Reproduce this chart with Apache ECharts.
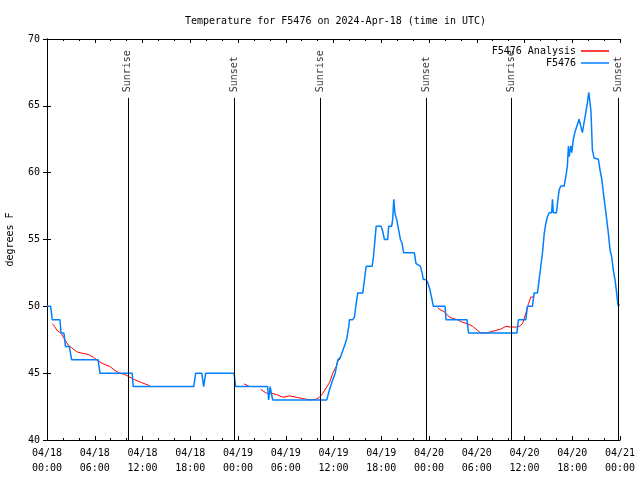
<!DOCTYPE html>
<html>
<head>
<meta charset="utf-8">
<script src="https://cdn.jsdelivr.net/npm/echarts@6/dist/echarts.min.js"></script>
<style>html,body{margin:0;padding:0;background:#fff}#c{width:640px;height:480px}</style>
</head>
<body>
<div id="c"></div>
<script>
// hours since 2024-04-18 00:00 UTC, degrees F
const obsHours = [0.00,0.46,0.66,1.63,1.76,2.13,2.32,2.80,3.10,6.43,6.65,10.70,10.83,18.44,18.69,19.44,19.69,19.94,23.50,23.71,27.72,27.85,28.04,28.16,28.35,35.16,35.37,35.62,35.91,36.21,36.54,36.88,37.17,37.47,37.67,37.92,38.01,38.42,38.63,38.85,39.05,39.68,39.89,40.10,40.86,41.02,41.14,41.36,41.98,42.19,42.40,42.81,42.94,43.31,43.44,43.57,43.74,43.94,44.19,44.41,44.62,44.82,46.16,46.37,46.91,47.13,47.29,47.63,47.83,48.13,48.38,48.55,50.01,50.14,52.77,52.97,59.04,59.24,60.17,60.37,61.00,61.21,61.63,61.84,62.05,62.26,62.47,62.68,62.88,63.10,63.41,63.51,63.63,64.01,64.14,64.35,64.56,64.98,65.19,65.39,65.52,65.61,65.82,65.94,66.11,66.32,66.65,66.86,67.07,67.27,67.52,67.70,67.90,68.08,68.24,68.36,68.53,68.74,69.28,69.49,69.71,69.91,70.12,70.33,70.53,70.75,70.96,71.16,71.37,71.54,71.67,71.79,71.90];
const obsTemps = [50,50,49,49,48,48,47,47,46,46,45,45,44,44,45,45,44,45,45,44,44,43,44,44,43,43,43.5,44,44.5,45,46,46.2,46.7,47.2,47.6,48.5,49,49,49.2,50.2,51,51,52,53,53,53.7,54.5,56,56,55.6,55,55,56,56,56.5,58,56.9,56.5,55.7,55,54.7,54,54,53.2,53,52.5,52,52,51.8,51.2,50.5,50,50,49,49,48,48,49,49,50,50,51,51,52,53,54,55.4,56.2,56.7,57,57,58,57,57,57.7,58.7,59,59,59.7,60.5,62,61.2,62,61.5,62.4,63,63.6,64,64,63,63,64.5,65.2,66,65.2,64.5,61.7,61.1,61,60.2,59.5,58.5,57.5,56.5,55.5,54.2,53.7,52.7,52,51.2,50.5,50,50.2];

// analysis segments (null = gap)
const anaHours = [0.66,0.94,1.26,1.76,2.04,2.35,2.67,3.10,3.73,4.35,5.18,5.81,6.43,7.06,7.90,8.53,9.16,9.78,10.41,11.04,11.88,12.71,12.92,18.0,
  24.75,25.46,26.0,
  26.84,27.56,28.19,28.81,29.64,30.48,31.32,32.15,32.99,33.83,34.24,34.66,35.09,35.50,35.91,36.34,36.54,36.88,40.0,
  49.08,49.51,49.92,50.14,50.55,50.97,51.59,52.22,52.85,53.48,54.10,54.53,55.16,55.78,56.41,57.04,57.66,58.29,58.92,59.33,59.75,60.17,60.50,60.80,61.21];
const anaTemps = [48.7,48.5,48.2,48.0,47.7,47.4,47.1,46.9,46.6,46.5,46.4,46.2,45.9,45.7,45.5,45.2,45.0,44.9,44.7,44.5,44.3,44.1,44.05,null,
  44.2,44.0,null,
  43.8,43.5,43.5,43.4,43.2,43.3,43.2,43.1,43.0,43.05,43.2,43.5,43.9,44.3,45.0,45.5,45.9,46.1,null,
  49.9,49.7,49.6,49.5,49.2,49.1,49.0,48.8,48.7,48.5,48.2,48.0,48.0,48.1,48.2,48.3,48.5,48.45,48.45,48.5,48.7,49.5,50.2,50.7,50.7];

const eventHours = [10.16,23.58,34.31,47.67,58.33,71.75];
const eventNames = ['Sunrise','Sunset','Sunrise','Sunset','Sunrise','Sunset'];
const eventTop = 65.6;

const xTickLabels = ['04/18\n00:00','04/18\n06:00','04/18\n12:00','04/18\n18:00','04/19\n00:00','04/19\n06:00','04/19\n12:00','04/19\n18:00','04/20\n00:00','04/20\n06:00','04/20\n12:00','04/20\n18:00','04/21\n00:00'];
const yTicks = [40,45,50,55,60,65,70];

const FONT = 'DejaVu Sans Mono';
const chart = echarts.init(document.getElementById('c'), null, {renderer:'canvas'});

const axisLineS = {show:true, lineStyle:{color:'#000', width:1}};
const xCommon = {type:'value', min:0, max:72, interval:6,
  axisLine:axisLineS, splitLine:{show:false},
  axisTick:{show:true, inside:true, length:4, lineStyle:{color:'#000'}},
  minorTick:{show:true, splitNumber:3, length:2, lineStyle:{color:'#000'}},
  minorSplitLine:{show:false}};
const yCommon = {type:'value', min:yTicks[0], max:yTicks[yTicks.length-1], interval:5,
  axisLine:axisLineS, splitLine:{show:false},
  axisTick:{show:true, inside:true, length:4, lineStyle:{color:'#000'}}};

chart.setOption({
  animation:false,
  backgroundColor:'#fff',
  textStyle:{fontFamily:FONT},
  title:{text:'Temperature for F5476 on 2024-Apr-18 (time in UTC)', left:180, top:11,
    textStyle:{fontFamily:FONT, fontSize:10, fontWeight:'normal', color:'#000'}},
  legend:{orient:'vertical', right:31, top:46, padding:0, align:'right', itemWidth:28, itemHeight:1.5, itemGap:2,
    icon:'rect', itemStyle:{},
    data:['F5476 Analysis','F5476'],
    textStyle:{fontFamily:FONT, fontSize:10, color:'#000', padding:[0,0,0,0]}},
  grid:{left:47, right:20, top:39, bottom:40, containLabel:false, outerBoundsMode:'none'},
  xAxis:[
    Object.assign({}, xCommon, {position:'bottom',
      axisLabel:{show:true, fontFamily:FONT, fontSize:10, color:'#000', margin:6, lineHeight:15,
        formatter:(v)=>xTickLabels[Math.round(v/6)]}}),
    Object.assign({}, xCommon, {position:'top', axisLabel:{show:false}})
  ],
  yAxis:[
    Object.assign({}, yCommon, {position:'left', name:'degrees F', nameLocation:'middle', nameGap:32,
      nameTextStyle:{fontFamily:FONT, fontSize:10, color:'#000'},
      axisLabel:{show:true, fontFamily:FONT, fontSize:10, color:'#000', margin:7}}),
    Object.assign({}, yCommon, {position:'right', axisLabel:{show:false}})
  ],
  series:[
    {name:'events', type:'scatter', symbolSize:1, itemStyle:{color:'rgba(0,0,0,0)'}, silent:true,
      data:eventHours.map((h,i)=>[h, eventTop, eventNames[i]]),
      label:{show:true, position:'top', distance:5, rotate:90, align:'left', verticalAlign:'middle',
        fontFamily:FONT, fontSize:10, color:'#000', formatter:(p)=>p.data[2]},
      markLine:{silent:true, symbol:['none','none'], label:{show:false},
        lineStyle:{color:'#000', width:1, type:'solid'},
        data:eventHours.map(h=>[{coord:[h, yTicks[0]]},{coord:[h, eventTop]}])}},
    {name:'F5476 Analysis', type:'line', symbol:'none', showSymbol:false, connectNulls:false,
      lineStyle:{color:'#ff0000', width:1}, itemStyle:{color:'#ff0000'},
      data:anaHours.map((h,i)=>[h, anaTemps[i]])},
    {name:'F5476', type:'line', symbol:'none', showSymbol:false,
      lineStyle:{color:'#0080ff', width:1.5}, itemStyle:{color:'#0080ff'},
      data:obsHours.map((h,i)=>[h, obsTemps[i]])}
  ]
});
</script>
</body>
</html>
